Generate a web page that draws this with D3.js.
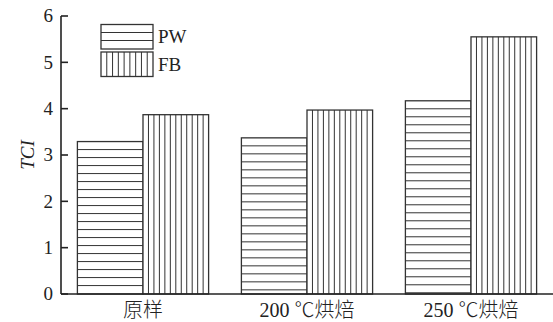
<!DOCTYPE html>
<html>
<head>
<meta charset="utf-8">
<script src="https://cdn.jsdelivr.net/npm/d3@7"></script>
<style>
  html, body { margin: 0; padding: 0; background: #fff; }
  svg { display: block; }
  text { fill: #222; }
</style>
</head>
<body>
<svg id="chart" width="553" height="322"></svg>
<script>
// TCI of the raw sample and the two roasted samples, for PW and FB
const categories = ["原样", "200 ℃烘焙", "250 ℃烘焙"];
const seriesNames = ["PW", "FB"];
const pwValues = [3.29, 3.37, 4.17];
const fbValues = [3.87, 3.97, 5.55];
const yTicks = [0, 1, 2, 3, 4, 5, 6];

const svg = d3.select("#chart");
const serif = "'Liberation Serif', 'Times New Roman', serif";
const cjk = "'Noto Sans CJK SC', 'Liberation Serif', serif";
const ink = "#222";

const x0 = d3.scaleBand().domain(categories).range([61, 553])
  .paddingInner(0.2).paddingOuter(0.1);
const x1 = d3.scaleBand().domain(seriesNames).range([0, x0.bandwidth()]);
const y = d3.scaleLinear().domain([0, 6]).range([294, 16]);

const rows = categories.map((c, i) => ({ cat: c, PW: pwValues[i], FB: fbValues[i] }));

// hatch helpers: horizontal lines (from the top down) for PW, vertical lines for FB
function hatchHorizontal(g, x, w, yTop, yBottom, gap) {
  for (let yy = yTop + gap; yy < yBottom - 1; yy += gap) {
    g.append("line").attr("x1", x).attr("x2", x + w)
      .attr("y1", yy).attr("y2", yy)
      .attr("stroke", "#333").attr("stroke-width", 1);
  }
}
function hatchVertical(g, x, w, yTop, yBottom, n) {
  const step = w / n;
  for (let k = 1; k < n; k++) {
    const xx = x + k * step;
    g.append("line").attr("x1", xx).attr("x2", xx)
      .attr("y1", yTop).attr("y2", yBottom)
      .attr("stroke", "#333").attr("stroke-width", 1);
  }
}

const bars = svg.append("g");
rows.forEach(r => {
  seriesNames.forEach(s => {
    const bx = x0(r.cat) + x1(s);
    const bw = x1.bandwidth();
    const top = y(r[s]);
    const bottom = y(0);
    const g = bars.append("g");
    g.append("rect").attr("x", bx).attr("y", top)
      .attr("width", bw).attr("height", bottom - top)
      .attr("fill", "#fff").attr("stroke", "#333").attr("stroke-width", 1.3);
    if (s === "PW") hatchHorizontal(g, bx, bw, top, bottom, 8);
    else hatchVertical(g, bx, bw, top, bottom, 12);
  });
});

// y axis with inward ticks
const yAxis = svg.append("g");
yAxis.append("line").attr("x1", 61).attr("x2", 61)
  .attr("y1", y(6)).attr("y2", y(0))
  .attr("stroke", ink).attr("stroke-width", 1.6);
yTicks.forEach(t => {
  yAxis.append("line").attr("x1", 61).attr("x2", 68)
    .attr("y1", y(t)).attr("y2", y(t))
    .attr("stroke", ink).attr("stroke-width", 1.6);
  yAxis.append("text").attr("x", 53).attr("y", y(t))
    .attr("dy", "0.34em").attr("text-anchor", "end")
    .style("font-family", serif).style("font-size", "19px")
    .text(t);
});

// x axis baseline
svg.append("line").attr("x1", 61).attr("x2", 553)
  .attr("y1", y(0)).attr("y2", y(0))
  .attr("stroke", ink).attr("stroke-width", 1.6);

// category labels: digits in serif, Chinese text and ℃ in the CJK face
categories.forEach(c => {
  const m = c.match(/^([0-9]+ )?(.*)$/);
  const t = svg.append("text")
    .attr("x", x0(c) + x0.bandwidth() / 2).attr("y", 317)
    .attr("text-anchor", "middle")
    .style("font-size", "20px");
  if (m[1]) t.append("tspan").style("font-family", serif).text(m[1]);
  t.append("tspan").style("font-family", cjk).style("font-weight", 300).text(m[2]);
});

// y axis title
svg.append("text")
  .attr("transform", "translate(34,155) rotate(-90)")
  .attr("text-anchor", "middle")
  .style("font-family", serif).style("font-size", "19px")
  .style("font-style", "italic")
  .text("TCI");

// legend
const legend = svg.append("g");
const lx = 101, lw = 52, lh = 24.5;
const legendY = { PW: 24.5, FB: 52 };
seriesNames.forEach(s => {
  const ly = legendY[s];
  legend.append("rect").attr("x", lx).attr("y", ly)
    .attr("width", lw).attr("height", lh)
    .attr("fill", "#fff").attr("stroke", "#333").attr("stroke-width", 1.3);
  if (s === "PW") hatchHorizontal(legend, lx, lw, ly, ly + lh, 8);
  else hatchVertical(legend, lx, lw, ly, ly + lh, 9);
  legend.append("text").attr("x", lx + lw + 5).attr("y", ly + lh / 2)
    .attr("dy", "0.35em")
    .style("font-family", serif).style("font-size", "19px")
    .text(s);
});
</script>
</body>
</html>
